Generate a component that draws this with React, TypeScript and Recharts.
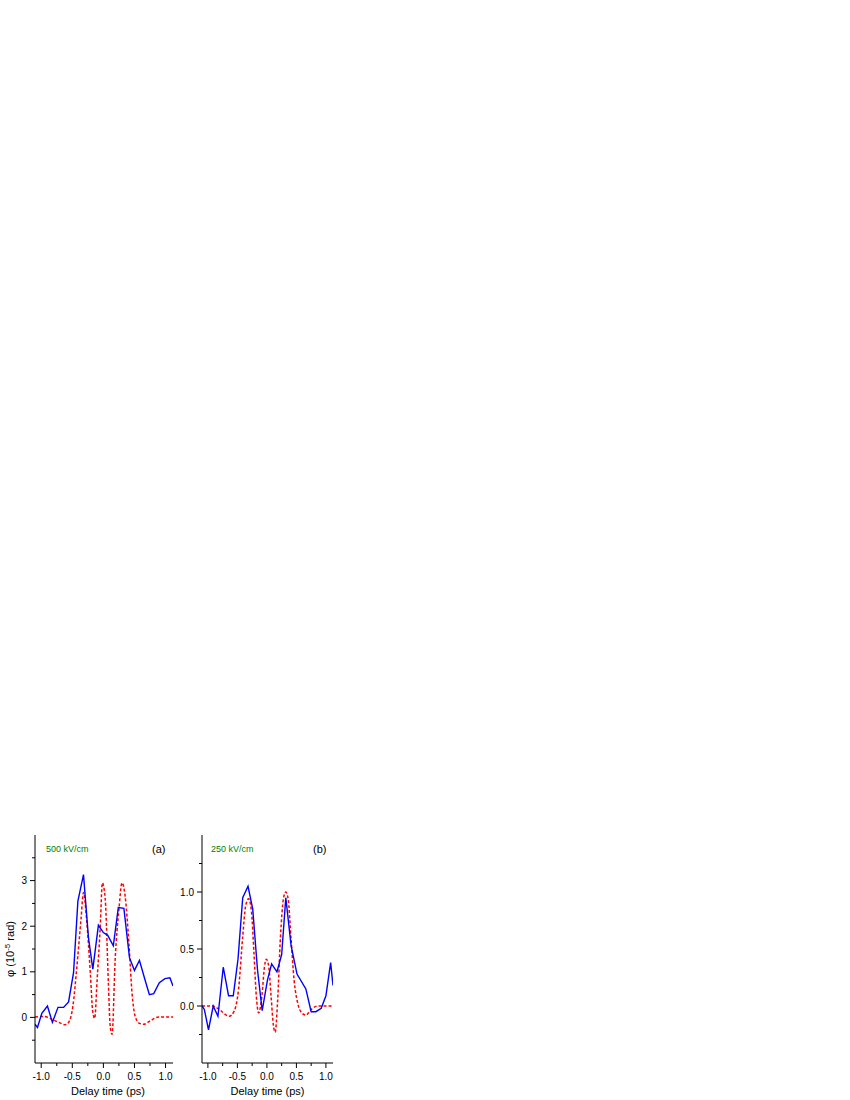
import { LineChart, Line, XAxis, YAxis } from "recharts";

const FONT = "'Liberation Sans', Arial, sans-serif";

// delay time (ps) vs phase, panel (a) 500 kV/cm
const blueA = [
  { t: -1.1, v: -0.15 }, { t: -1.06, v: -0.22 }, { t: -0.99, v: 0.09 },
  { t: -0.9, v: 0.25 }, { t: -0.82, v: -0.11 }, { t: -0.73, v: 0.22 },
  { t: -0.64, v: 0.22 }, { t: -0.56, v: 0.34 }, { t: -0.48, v: 0.98 },
  { t: -0.41, v: 2.55 }, { t: -0.32, v: 3.13 }, { t: -0.24, v: 1.75 },
  { t: -0.17, v: 1.06 }, { t: -0.08, v: 2.02 }, { t: 0.0, v: 1.86 },
  { t: 0.07, v: 1.8 }, { t: 0.16, v: 1.57 }, { t: 0.24, v: 2.41 },
  { t: 0.33, v: 2.39 }, { t: 0.42, v: 1.31 }, { t: 0.5, v: 1.03 },
  { t: 0.58, v: 1.25 }, { t: 0.66, v: 0.87 }, { t: 0.74, v: 0.5 },
  { t: 0.81, v: 0.52 }, { t: 0.9, v: 0.76 }, { t: 0.99, v: 0.85 },
  { t: 1.07, v: 0.87 }, { t: 1.12, v: 0.69 },
];

const redA = [
  { t: -1.1, v: 0.01 }, { t: -0.96, v: 0.02 }, { t: -0.83, v: -0.04 },
  { t: -0.7, v: -0.12 }, { t: -0.62, v: -0.16 }, { t: -0.56, v: -0.11 },
  { t: -0.49, v: 0.25 }, { t: -0.43, v: 1.06 }, { t: -0.36, v: 2.15 },
  { t: -0.32, v: 2.74 }, { t: -0.27, v: 2.15 }, { t: -0.21, v: 0.98 },
  { t: -0.17, v: 0.11 }, { t: -0.14, v: -0.02 }, { t: -0.1, v: 0.84 },
  { t: -0.05, v: 2.0 }, { t: -0.016, v: 2.95 }, { t: 0.03, v: 2.59 },
  { t: 0.08, v: 0.77 }, { t: 0.11, v: -0.2 }, { t: 0.14, v: -0.37 },
  { t: 0.19, v: 1.28 }, { t: 0.25, v: 2.37 }, { t: 0.3, v: 2.95 },
  { t: 0.35, v: 2.66 }, { t: 0.41, v: 1.64 }, { t: 0.46, v: 0.55 },
  { t: 0.51, v: 0.03 }, { t: 0.58, v: -0.13 }, { t: 0.65, v: -0.15 },
  { t: 0.76, v: -0.07 }, { t: 0.89, v: 0.01 }, { t: 1.12, v: 0.01 },
];

// panel (b) 250 kV/cm
const blueB = [
  { t: -1.1, v: 0.0 }, { t: -1.06, v: -0.03 }, { t: -0.99, v: -0.21 },
  { t: -0.91, v: 0.0 }, { t: -0.83, v: -0.09 }, { t: -0.74, v: 0.34 },
  { t: -0.65, v: 0.09 }, { t: -0.57, v: 0.09 }, { t: -0.49, v: 0.41 },
  { t: -0.41, v: 0.95 }, { t: -0.32, v: 1.05 }, { t: -0.24, v: 0.85 },
  { t: -0.16, v: 0.32 }, { t: -0.08, v: -0.04 }, { t: 0.01, v: 0.23 },
  { t: 0.08, v: 0.37 }, { t: 0.17, v: 0.3 }, { t: 0.25, v: 0.45 },
  { t: 0.32, v: 0.95 }, { t: 0.41, v: 0.53 }, { t: 0.51, v: 0.28 },
  { t: 0.66, v: 0.15 }, { t: 0.75, v: -0.05 }, { t: 0.83, v: -0.05 },
  { t: 0.92, v: -0.02 }, { t: 1.0, v: 0.09 }, { t: 1.08, v: 0.38 },
  { t: 1.12, v: 0.18 },
];

const redB = [
  { t: -1.1, v: 0.0 }, { t: -0.92, v: 0.0 }, { t: -0.81, v: -0.03 },
  { t: -0.64, v: -0.09 }, { t: -0.55, v: -0.04 }, { t: -0.48, v: 0.15 },
  { t: -0.41, v: 0.61 }, { t: -0.36, v: 0.88 }, { t: -0.31, v: 0.94 },
  { t: -0.26, v: 0.82 }, { t: -0.22, v: 0.47 }, { t: -0.18, v: 0.09 },
  { t: -0.14, v: -0.06 }, { t: -0.085, v: 0.09 }, { t: -0.04, v: 0.35 },
  { t: -0.01, v: 0.41 }, { t: 0.03, v: 0.35 }, { t: 0.07, v: 0.09 },
  { t: 0.11, v: -0.17 }, { t: 0.14, v: -0.23 }, { t: 0.18, v: 0.03 },
  { t: 0.23, v: 0.61 }, { t: 0.28, v: 0.94 }, { t: 0.32, v: 1.0 },
  { t: 0.36, v: 0.94 }, { t: 0.41, v: 0.58 }, { t: 0.46, v: 0.23 },
  { t: 0.52, v: 0.03 }, { t: 0.59, v: -0.06 }, { t: 0.66, v: -0.08 },
  { t: 0.75, v: -0.03 }, { t: 0.86, v: 0.0 }, { t: 1.12, v: 0.0 },
];

const xDomain: [number, number] = [-1.1, 1.12];
const xMajor = [-1, -0.5, 0, 0.5, 1];
const xMinor = [-0.75, -0.25, 0.25, 0.75];

const yDomainA: [number, number] = [-1, 4];
const yMajorA = [0, 1, 2, 3];
const yMinorA = [-0.5, 0.5, 1.5, 2.5, 3.5];

const yDomainB: [number, number] = [-0.5, 1.5];
const yMajorB = [0, 0.5, 1];
const yMinorB = [-0.25, 0.25, 0.75, 1.25];

const makeXTick = (major: number[]) => (props: any) => {
  const { x, y, payload } = props;
  const isMajor = major.includes(payload.value);
  return (
    <g>
      <line x1={x} x2={x} y1={y} y2={y + (isMajor ? 5 : 3)} stroke="#000" />
      {isMajor && (
        <text x={x} y={y + 10} dy="0.71em" textAnchor="middle" fontSize={10} fontFamily={FONT} fill="#000">
          {payload.value.toFixed(1)}
        </text>
      )}
    </g>
  );
};

const makeYTick = (major: number[], digits: number) => (props: any) => {
  const { x, y, payload } = props;
  const isMajor = major.includes(payload.value);
  return (
    <g>
      <line x1={x} x2={x - (isMajor ? 5 : 3)} y1={y} y2={y} stroke="#000" />
      {isMajor && (
        <text x={x - 8} y={y} dy="0.355em" textAnchor="end" fontSize={10} fontFamily={FONT} fill="#000">
          {payload.value.toFixed(digits)}
        </text>
      )}
    </g>
  );
};

const makeXTitle = (dx: number) => (props: any) => {
  const { viewBox } = props;
  return (
    <text x={viewBox.x + viewBox.width / 2 + dx} y={viewBox.y + 32} textAnchor="middle" fontSize={11} fontFamily={FONT} fill="#000">
      Delay time (ps)
    </text>
  );
};

const yTitle = (props: any) => {
  const { viewBox } = props;
  const cx = viewBox.x + 14;
  const cy = viewBox.y + viewBox.height / 2;
  return (
    <text transform={`translate(${cx},${cy}) rotate(-90)`} textAnchor="middle" fontSize={11} fontFamily={FONT} fill="#000">
      φ (10<tspan dy={-4} fontSize={8}>-5</tspan><tspan dy={4}> rad)</tspan>
    </text>
  );
};

interface PanelProps {
  blue: { t: number; v: number }[];
  red: { t: number; v: number }[];
  yDomain: [number, number];
  yMajor: number[];
  yMinor: number[];
  digits: number;
  width: number;
  yWidth: number;
  titleDx: number;
  showYTitle?: boolean;
}

const Panel = ({ blue, red, yDomain, yMajor, yMinor, digits, width, yWidth, titleDx, showYTitle }: PanelProps) => (
  <LineChart width={width} height={275} margin={{ top: 10, right: 12, left: 0, bottom: 0 }}>
    <XAxis
      dataKey="t"
      type="number"
      domain={xDomain}
      allowDataOverflow
      ticks={[...xMajor, ...xMinor].sort((a, b) => a - b)}
      interval={0}
      tickSize={0}
      tickMargin={0}
      tickLine={false}
      tick={makeXTick(xMajor)}
      axisLine={{ stroke: "#000" }}
      height={37}
      label={makeXTitle(titleDx)}
    />
    <XAxis
      xAxisId="top"
      orientation="top"
      type="number"
      domain={xDomain}
      allowDataOverflow
      tick={false}
      tickLine={false}
      axisLine={{ stroke: "#000" }}
      height={0}
    />
    <YAxis
      type="number"
      domain={yDomain}
      allowDataOverflow
      ticks={[...yMajor, ...yMinor].sort((a, b) => a - b)}
      interval={0}
      tickSize={0}
      tickMargin={0}
      tickLine={false}
      tick={makeYTick(yMajor, digits)}
      axisLine={{ stroke: "#000" }}
      width={yWidth}
      label={showYTitle ? yTitle : undefined}
    />
    <YAxis
      yAxisId="right"
      orientation="right"
      type="number"
      domain={yDomain}
      allowDataOverflow
      tick={false}
      tickLine={false}
      axisLine={{ stroke: "#000" }}
      width={0}
    />
    <Line
      data={red}
      dataKey="v"
      type="monotone"
      stroke="#ff0000"
      strokeWidth={1.5}
      strokeDasharray="3 2"
      dot={false}
      isAnimationActive={false}
    />
    <Line
      data={blue}
      dataKey="v"
      type="linear"
      stroke="#0000ff"
      strokeWidth={1.4}
      dot={false}
      isAnimationActive={false}
    />
  </LineChart>
);

const note = (left: number, top: number, size: number, color: string) => ({
  position: "absolute" as const,
  left,
  top,
  fontSize: size,
  lineHeight: 1,
  fontFamily: FONT,
  color,
  whiteSpace: "nowrap" as const,
});

export default function App() {
  return (
    <div style={{ position: "absolute", left: 0, top: 0, width: 850, height: 1100, background: "#fff" }}>
      <div style={{ position: "absolute", left: 0, top: 825 }}>
        <Panel blue={blueA} red={redA} yDomain={yDomainA} yMajor={yMajorA} yMinor={yMinorA} digits={0} width={185} yWidth={35} titleDx={4} showYTitle />
      </div>
      <div style={{ position: "absolute", left: 175, top: 825 }}>
        <Panel blue={blueB} red={redB} yDomain={yDomainB} yMajor={yMajorB} yMinor={yMinorB} digits={1} width={170} yWidth={27} titleDx={0} />
      </div>
      <div style={note(46, 845, 9, "#008000")}>500 kV/cm</div>
      <div style={note(152, 844, 11, "#000")}>(a)</div>
      <div style={note(211, 845, 9, "#008000")}>250 kV/cm</div>
      <div style={note(313, 844, 11, "#000")}>(b)</div>
    </div>
  );
}
